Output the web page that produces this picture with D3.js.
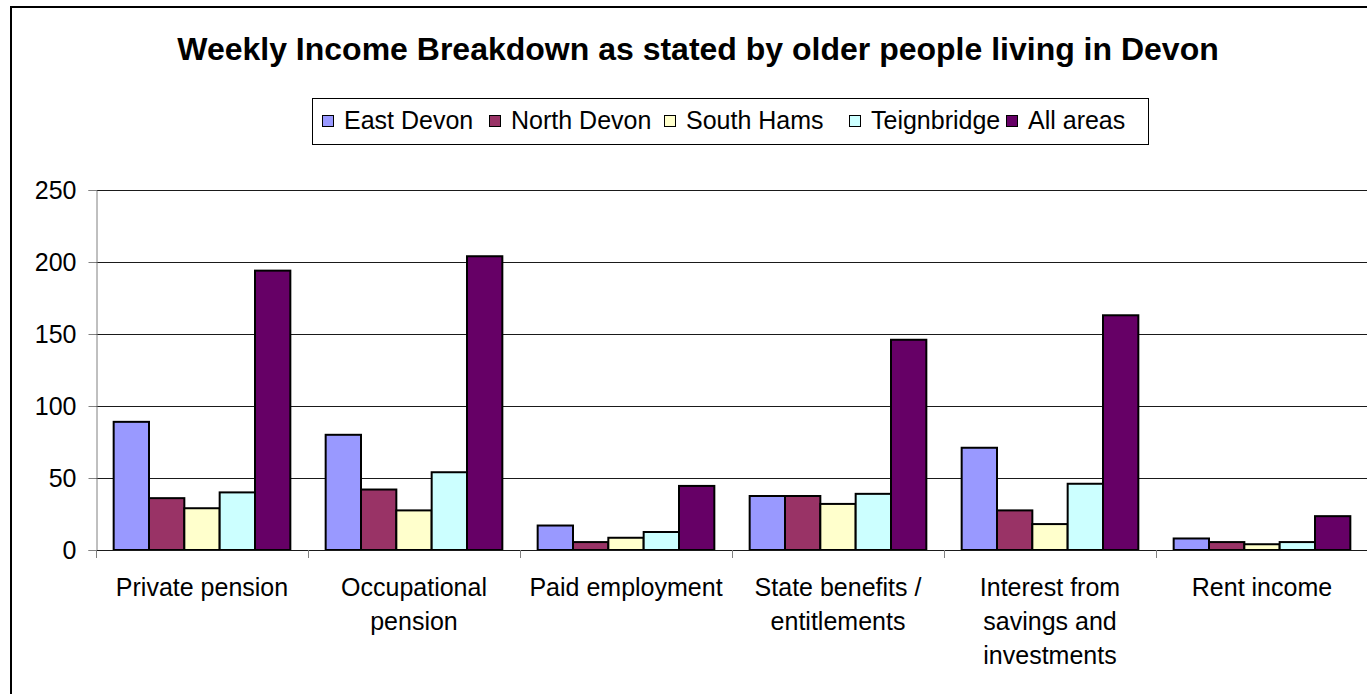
<!DOCTYPE html>
<html>
<head>
<meta charset="utf-8">
<script src="https://cdn.jsdelivr.net/npm/d3@7"></script>
<style>
  html, body { margin: 0; padding: 0; background: #fff; overflow: hidden; }
  svg { display: block; font-family: "Liberation Sans", Arial, sans-serif; }
</style>
</head>
<body>
<svg id="chart" width="1367" height="694"></svg>
<script>
// Income sources (x categories); "\n" marks where a label wraps
const categories = [
  "Private pension",
  "Occupational\npension",
  "Paid employment",
  "State benefits /\nentitlements",
  "Interest from\nsavings and\ninvestments",
  "Rent income"
];

// Areas (series)
const seriesNames = ["East Devon", "North Devon", "South Hams", "Teignbridge", "All areas"];
const seriesColors = ["#9999FF", "#993366", "#FFFFCC", "#CCFFFF", "#660066"];

// Weekly income per area, one value per category
const eastDevon   = [89, 80, 17, 37.5, 71, 8];
const northDevon  = [36, 42, 5.5, 37.5, 27.5, 5.5];
const southHams   = [29, 27.5, 8.5, 32, 18, 4];
const teignbridge = [40, 54, 12.5, 39, 46, 5.5];
const allAreas    = [194, 204, 44.5, 146, 163, 23.5];

const yTicks = [0, 50, 100, 150, 200, 250];

const seriesValues = [eastDevon, northDevon, southHams, teignbridge, allAreas];
const rows = categories.map((c, i) => ({
  category: c,
  values: seriesNames.map((s, j) => ({ series: s, value: seriesValues[j][i], color: seriesColors[j] }))
}));

const svg = d3.select("#chart");
const W = 1367, H = 694;
const plot = { left: 96, right: 1368, top: 190, bottom: 550 };

// Outer frame of the chart area
svg.append("rect")
  .attr("x", 11).attr("y", 7)
  .attr("width", W + 20).attr("height", H + 20)
  .attr("fill", "#fff").attr("stroke", "#000").attr("stroke-width", 2);

// Title
svg.append("text")
  .attr("x", 698).attr("y", 60)
  .attr("text-anchor", "middle")
  .attr("font-size", 32).attr("font-weight", "bold")
  .text("Weekly Income Breakdown as stated by older people living in Devon");

// Scales
const x0 = d3.scaleBand().domain(categories).range([plot.left, plot.right]).padding(0);
const bw = x0.bandwidth();
const x1 = d3.scaleBand().domain(seriesNames).range([bw / 12, bw * 11 / 12]).padding(0);
const y = d3.scaleLinear().domain([0, 250]).range([plot.bottom, plot.top]);

// Horizontal gridlines
svg.append("g")
  .selectAll("line")
  .data(yTicks.filter(d => d > 0))
  .join("line")
  .attr("x1", plot.left).attr("x2", plot.right)
  .attr("y1", d => Math.round(y(d)) + 0.5).attr("y2", d => Math.round(y(d)) + 0.5)
  .attr("stroke", "#1a1a1a").attr("stroke-width", 1);

// Y axis
const yAxis = d3.axisLeft(y).tickValues(yTicks).tickSize(8).tickPadding(12).tickFormat(d3.format("d"));
const gy = svg.append("g").attr("transform", `translate(${plot.left + 0.5},0)`).call(yAxis);
gy.select(".domain").attr("stroke", "#808080");
gy.selectAll(".tick line").attr("stroke", "#808080");
gy.selectAll(".tick text")
  .attr("font-size", 25).attr("fill", "#000")
  .attr("font-family", "'Liberation Sans', Arial, sans-serif");

// Bars
const groups = svg.append("g")
  .selectAll("g")
  .data(rows)
  .join("g")
  .attr("transform", d => `translate(${x0(d.category)},0)`);

groups.selectAll("rect")
  .data(d => d.values)
  .join("rect")
  .attr("x", d => x1(d.series))
  .attr("y", d => y(d.value))
  .attr("width", x1.bandwidth())
  .attr("height", d => y(0) - y(d.value))
  .attr("fill", d => d.color)
  .attr("stroke", "#000").attr("stroke-width", 2);

// X axis (category boundaries as ticks)
svg.append("line")
  .attr("x1", plot.left).attr("x2", plot.right)
  .attr("y1", plot.bottom + 0.5).attr("y2", plot.bottom + 0.5)
  .attr("stroke", "#1a1a1a");

const boundaries = categories.map(c => x0(c));
svg.append("g")
  .selectAll("line")
  .data(boundaries)
  .join("line")
  .attr("x1", d => Math.round(d) + 0.5).attr("x2", d => Math.round(d) + 0.5)
  .attr("y1", plot.bottom).attr("y2", plot.bottom + 8)
  .attr("stroke", "#808080");

// Category labels
const labels = svg.append("g")
  .selectAll("text")
  .data(categories)
  .join("text")
  .attr("text-anchor", "middle")
  .attr("font-size", 25)
  .attr("x", d => x0(d) + bw / 2)
  .attr("y", 596);
labels.each(function (d) {
  const t = d3.select(this);
  d.split("\n").forEach((line, i) => {
    t.append("tspan")
      .attr("x", x0(d) + bw / 2)
      .attr("dy", i === 0 ? 0 : 34)
      .text(line);
  });
});

// Legend
const legend = svg.append("g");
legend.append("rect")
  .attr("x", 312.5).attr("y", 98.5).attr("width", 836).attr("height", 46)
  .attr("fill", "#fff").attr("stroke", "#000").attr("stroke-width", 1);

const legendX = [322, 489, 664, 849, 1006];
const items = legend.selectAll("g.item")
  .data(seriesNames)
  .join("g")
  .attr("class", "item")
  .attr("transform", (d, i) => `translate(${legendX[i]},0)`);
items.append("rect")
  .attr("x", 0.5).attr("y", 115.5).attr("width", 11).attr("height", 11)
  .attr("fill", (d, i) => seriesColors[i])
  .attr("stroke", "#000").attr("stroke-width", 1);
items.append("text")
  .attr("x", 22).attr("y", 129)
  .attr("font-size", 25)
  .text(d => d);
</script>
</body>
</html>
